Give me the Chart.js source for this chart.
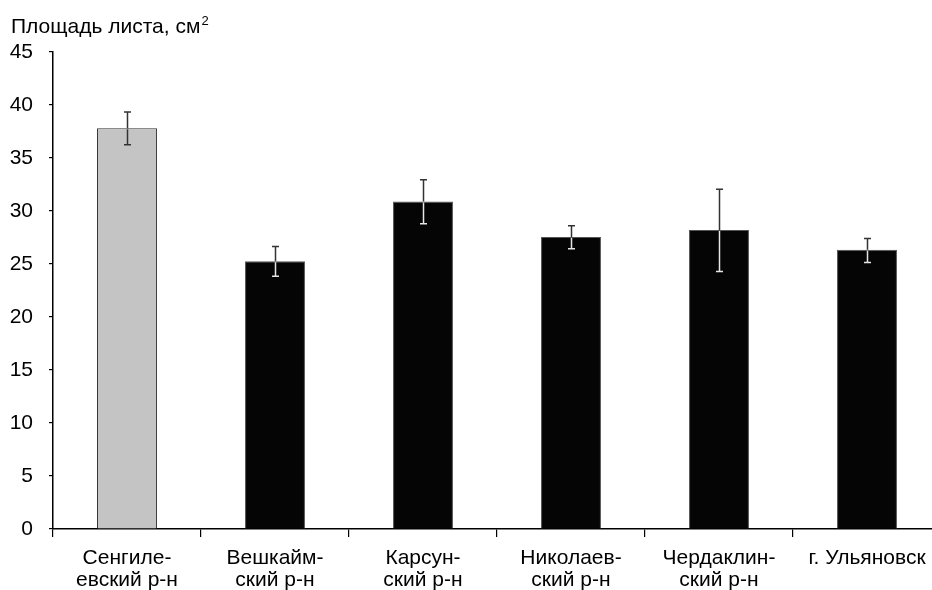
<!DOCTYPE html>
<html>
<head>
<meta charset="utf-8">
<script src="https://cdn.jsdelivr.net/npm/chart.js@4/dist/chart.umd.min.js"></script>
<style>
  html, body { margin: 0; padding: 0; background: #fff; overflow: hidden; }
  #wrap { position: relative; width: 941px; height: 590px; }
</style>
</head>
<body>
<div id="wrap"><canvas id="c"></canvas></div>
<script>
const categories = [
  ["Сенгиле-", "евский р-н"],
  ["Вешкайм-", "ский р-н"],
  ["Карсун-", "ский р-н"],
  ["Николаев-", "ский р-н"],
  ["Чердаклин-", "ский р-н"],
  ["г. Ульяновск"]
];
const means   = [37.8, 25.25, 30.9, 27.55, 28.2, 26.35];
const errLow  = [36.25, 23.85, 28.8, 26.45, 24.3, 25.15];
const errHigh = [39.35, 26.65, 32.95, 28.6, 32.05, 27.4];
const yTicks  = [0, 5, 10, 15, 20, 25, 30, 35, 40, 45];
const yTitle  = "Площадь листа, см";
const yTitleSup = "2";

const FONT = "'Liberation Sans', Arial, sans-serif";
const barFill   = ["#c4c4c4", "#050505", "#050505", "#050505", "#050505", "#050505"];
const barBorder = ["#333333", "#555555", "#555555", "#555555", "#555555", "#555555"];
const errInner  = ["#333333", "#e6e6e6", "#e6e6e6", "#e6e6e6", "#e6e6e6", "#e6e6e6"];

const errorBars = {
  id: 'errorBars',
  afterDatasetsDraw(chart) {
    const ctx = chart.ctx;
    const y = chart.scales.y;
    const meta = chart.getDatasetMeta(0);
    ctx.save();
    ctx.lineWidth = 1.5;
    meta.data.forEach((bar, i) => {
      const x = Math.round(bar.x) + 0.5;
      const yHi = y.getPixelForValue(errHigh[i]);
      const yLo = y.getPixelForValue(errLow[i]);
      const yTop = y.getPixelForValue(means[i]);
      const cap = 3.5;
      ctx.strokeStyle = "#333333";
      ctx.beginPath();
      ctx.moveTo(x, yHi); ctx.lineTo(x, Math.min(yTop, yLo));
      ctx.moveTo(x - cap, yHi); ctx.lineTo(x + cap, yHi);
      ctx.stroke();
      ctx.strokeStyle = errInner[i];
      ctx.beginPath();
      ctx.moveTo(x, yTop + 1); ctx.lineTo(x, yLo);
      ctx.moveTo(x - cap, yLo); ctx.lineTo(x + cap, yLo);
      ctx.stroke();
    });
    ctx.restore();
  }
};

const titlePlugin = {
  id: 'yTitleText',
  afterDraw(chart) {
    const ctx = chart.ctx;
    ctx.save();
    ctx.fillStyle = "#000";
    ctx.textBaseline = "alphabetic";
    ctx.textAlign = "left";
    ctx.font = "21px " + FONT;
    ctx.fillText(yTitle, 11, 33);
    const w = ctx.measureText(yTitle).width;
    ctx.font = "13px " + FONT;
    ctx.fillText(yTitleSup, 11 + w + 1, 25);
    ctx.restore();
  }
};

new Chart(document.getElementById('c'), {
  type: 'bar',
  data: {
    labels: categories,
    datasets: [{
      data: means,
      backgroundColor: barFill,
      borderColor: barBorder,
      borderWidth: 1,
      barPercentage: 0.405,
      categoryPercentage: 1.0
    }]
  },
  options: {
    responsive: true,
    maintainAspectRatio: false,
    animation: false,
    layout: { padding: { top: 52, left: 0, right: 0, bottom: 0 } },
    plugins: { legend: { display: false }, tooltip: { enabled: false }, title: { display: false } },
    scales: {
      x: {
        grid: { display: true, offset: true, drawOnChartArea: false, drawTicks: true, tickLength: 8, color: "#000", lineWidth: 1.2 },
        border: { display: true, color: "#000", width: 1.5 },
        ticks: { color: "#000", font: { family: FONT, size: 21, lineHeight: 1.06 }, padding: 10, maxRotation: 0, autoSkip: false },
        afterFit(scale) { scale.height = 61; }
      },
      y: {
        min: 0, max: 45,
        afterBuildTicks(scale) { scale.ticks = yTicks.map(v => ({ value: v })); },
        grid: { display: true, drawOnChartArea: false, drawTicks: true, tickLength: 4, color: "#000", lineWidth: 1.2 },
        border: { display: true, color: "#000", width: 1.5 },
        ticks: { color: "#000", font: { family: FONT, size: 21 }, padding: 16 },
        afterFit(scale) { scale.width = 53; }
      }
    }
  },
  plugins: [errorBars, titlePlugin]
});
</script>
</body>
</html>
